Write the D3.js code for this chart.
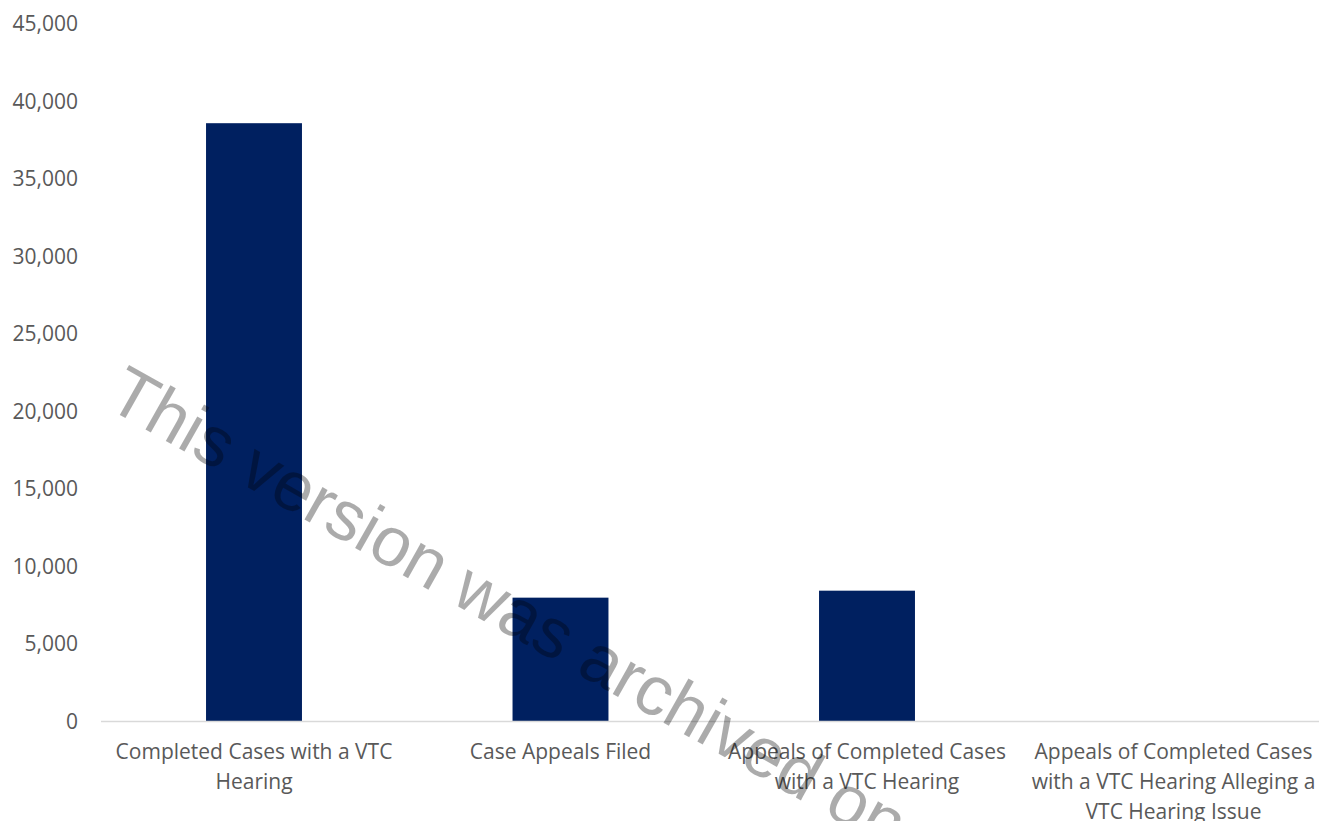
<!DOCTYPE html>
<html>
<head>
<meta charset="utf-8">
<script src="https://cdn.jsdelivr.net/npm/d3@7"></script>
<style>
  body { margin: 0; background: #fff; }
  svg { display: block; }
</style>
</head>
<body>
<script>
const categories = [
  "Completed Cases with a VTC Hearing",
  "Case Appeals Filed",
  "Appeals of Completed Cases with a VTC Hearing",
  "Appeals of Completed Cases with a VTC Hearing Alleging a VTC Hearing Issue"
];
const values = [38600, 7990, 8440, 0];
const yTicks = [0, 5000, 10000, 15000, 20000, 25000, 30000, 35000, 40000, 45000];
const watermark = "This version was archived on 2/8/2021";

const width = 1319, height = 821;

const svg = d3.select("body").append("svg")
  .attr("width", width)
  .attr("height", height);

const x = d3.scaleBand()
  .domain(categories)
  .range([100.75, 1326.75])
  .paddingInner(0.687)
  .paddingOuter(0.3435);

const y = d3.scaleLinear()
  .domain([0, 45000])
  .range([721.5, 24]);

// value labels on the left
svg.append("g")
  .selectAll("text")
  .data(yTicks)
  .enter().append("text")
  .attr("x", 78)
  .attr("y", (d) => y(d))
  .attr("dy", "0.35em")
  .attr("text-anchor", "end")
  .style("font-family", "'Open Sans', sans-serif")
  .style("font-size", "21px")
  .style("fill", "#595959")
  .text((d) => d3.format(",")(d));

// bars
svg.append("g")
  .selectAll("rect")
  .data(categories)
  .enter().append("rect")
  .attr("x", (d) => x(d))
  .attr("width", x.bandwidth())
  .attr("y", (d, i) => y(values[i]))
  .attr("height", (d, i) => y(0) - y(values[i]))
  .style("fill", "#002060");

// baseline
svg.append("line")
  .attr("x1", 101)
  .attr("x2", width)
  .attr("y1", y(0))
  .attr("y2", y(0))
  .style("stroke", "#d9d9d9")
  .style("stroke-width", 1.5);

// category labels, wrapped
const labels = svg.append("g")
  .selectAll("text")
  .data(categories)
  .enter().append("text")
  .attr("x", (d) => x(d) + x.bandwidth() / 2)
  .attr("y", 759)
  .attr("text-anchor", "middle")
  .style("font-family", "'Open Sans', sans-serif")
  .style("font-size", "21px")
  .style("fill", "#595959");

labels.each(function(d) {
  const t = d3.select(this);
  const words = d.split(" ");
  let line = [];
  let lineNo = 0;
  let tspan = t.append("tspan").attr("x", t.attr("x")).attr("dy", 0);
  words.forEach((w) => {
    line.push(w);
    tspan.text(line.join(" "));
    if (tspan.node().getComputedTextLength() > 290 && line.length > 1) {
      line.pop();
      tspan.text(line.join(" "));
      line = [w];
      lineNo++;
      tspan = t.append("tspan").attr("x", t.attr("x")).attr("dy", 30).text(w);
    }
  });
});

// archive watermark
svg.append("text")
  .attr("transform", "translate(104,406) rotate(29.5)")
  .style("font-family", "'Liberation Sans', Arial, sans-serif")
  .style("font-size", "70px")
  .style("fill", "#000")
  .style("fill-opacity", 0.33)
  .text(watermark);
</script>
</body>
</html>
